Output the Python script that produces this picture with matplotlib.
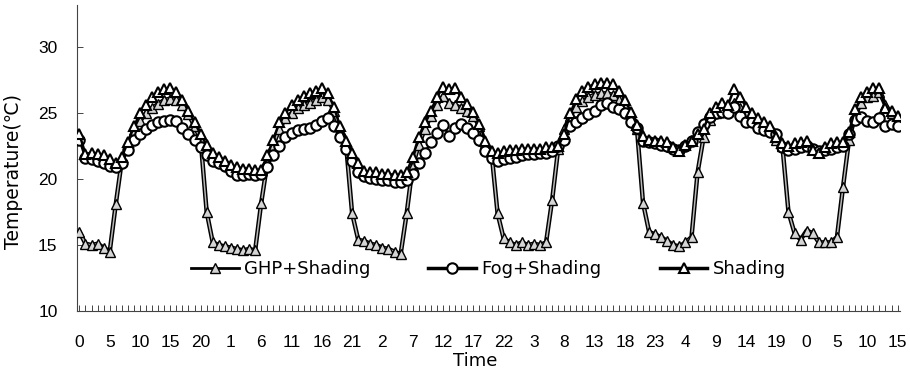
import matplotlib
matplotlib.use("Agg")
import matplotlib.pyplot as plt
import matplotlib.patheffects as pe
from matplotlib.lines import Line2D
from matplotlib.ticker import MultipleLocator, FixedLocator

plt.rcParams['font.family'] = ['Liberation Sans', 'DejaVu Sans']

hours = list(range(136))
tick_labels = ['0', '5', '10', '15', '20', '1', '6', '11', '16', '21', '2', '7', '12', '17',
               '22', '3', '8', '13', '18', '23', '4', '9', '14', '19', '0', '5', '10', '15']

shading = [
    23.4, 21.9, 22.0, 21.9, 21.8, 21.5, 21.2, 21.7, 22.8, 24.0, 25.0, 25.6, 26.2, 26.6, 26.8, 26.9, 26.6, 26.0, 25.2, 24.3, 23.4, 22.6, 22.0, 21.7,
    21.4, 21.1, 20.9, 20.8, 20.8, 20.7, 20.7, 21.8, 23.0, 24.3, 25.0, 25.6, 26.0, 26.3, 26.5, 26.7, 26.9, 26.5, 25.5, 24.0, 22.9, 22.0, 21.2, 20.6,
    20.5, 20.5, 20.4, 20.4, 20.3, 20.3, 20.5, 21.7, 23.2, 24.3, 25.2, 26.2, 27.0, 26.8, 26.9, 26.2, 25.7, 25.1, 24.2, 22.9, 22.1, 22.0, 22.1, 22.2,
    22.2, 22.3, 22.3, 22.3, 22.3, 22.4, 22.4, 22.5, 23.4, 25.0, 26.1, 26.7, 27.0, 27.2, 27.3, 27.3, 27.2, 26.7, 26.0, 25.1, 24.1, 23.3, 23.0, 22.9,
    22.9, 22.8, 22.4, 22.1, 22.6, 22.9, 23.4, 23.8, 25.0, 25.5, 25.8, 25.6, 26.8, 26.2, 25.5, 25.0, 24.6, 24.3, 24.0, 23.2, 22.7, 22.5, 22.7, 22.8,
    22.9, 22.2, 22.0, 22.4, 22.7, 22.8, 22.8, 23.6, 25.3, 26.2, 26.6, 26.9, 26.9, 25.4, 25.2, 24.8,
]

fog_shading = [
    23.0, 21.6, 21.5, 21.4, 21.2, 21.0, 20.9, 21.2, 22.2, 23.0, 23.4, 23.8, 24.1, 24.3, 24.4, 24.5, 24.4, 23.9, 23.4, 23.0, 22.4, 21.8, 21.4, 21.2,
    21.0, 20.6, 20.3, 20.3, 20.4, 20.3, 20.4, 20.9, 21.8, 22.5, 23.2, 23.5, 23.7, 23.8, 23.9, 24.1, 24.4, 24.6, 24.0, 23.2, 22.3, 21.4, 20.5, 20.2,
    20.1, 20.0, 19.9, 19.9, 19.8, 19.8, 19.9, 20.4, 21.2, 22.0, 22.8, 23.5, 24.1, 23.3, 23.9, 24.2, 23.9, 23.5, 23.0, 22.1, 21.6, 21.4, 21.5, 21.6,
    21.7, 21.8, 21.9, 21.9, 22.0, 22.0, 22.1, 22.5, 23.0, 24.0, 24.3, 24.6, 24.9, 25.2, 25.6, 25.8, 25.5, 25.3, 25.0, 24.3, 23.9, 22.9, 22.8, 22.7,
    22.6, 22.5, 22.3, 22.2, 22.5, 22.9, 23.6, 24.2, 24.7, 25.0, 25.1, 25.0, 25.5, 24.8, 24.3, 24.3, 23.9, 23.7, 23.6, 23.4, 22.4, 22.2, 22.3, 22.4,
    22.5, 22.3, 22.1, 22.2, 22.3, 22.4, 22.5, 23.4, 24.5, 24.7, 24.4, 24.3, 24.6, 24.0, 24.2, 24.0,
]

ghp_shading = [
    16.0, 15.1, 15.0, 15.1, 14.8, 14.5, 18.1, 21.4, 22.6, 23.7, 24.4, 25.0, 25.4, 25.7, 26.0, 26.1, 26.0, 25.6, 24.9, 24.0, 23.0, 17.5, 15.2, 15.0,
    14.9, 14.8, 14.7, 14.6, 14.7, 14.6, 18.2, 21.2, 22.6, 23.8, 24.6, 25.0, 25.4, 25.6, 25.8, 26.0, 26.2, 26.0, 25.2, 23.7, 22.6, 17.4, 15.4, 15.3,
    15.1, 15.0, 14.8, 14.7, 14.5, 14.3, 17.4, 21.0, 22.6, 23.8, 24.8, 25.6, 26.3, 25.8, 25.6, 25.4, 25.2, 24.8, 24.0, 22.7, 22.0, 17.4, 15.5, 15.2,
    15.0, 15.2, 15.0, 15.1, 15.0, 15.2, 18.4, 22.3, 23.8, 24.8, 25.5, 25.9, 26.2, 26.4, 26.5, 26.5, 26.4, 26.0, 25.6, 24.8, 23.8, 18.2, 16.0, 15.8,
    15.6, 15.3, 15.0, 14.9, 15.2, 15.6, 20.5, 23.2, 24.5, 25.0, 25.3, 25.2, 25.8, 25.4, 25.0, 24.6, 24.3, 24.0, 23.8, 23.0, 22.5, 17.5, 15.9, 15.4,
    16.1, 15.9, 15.2, 15.2, 15.2, 15.6, 19.4, 23.0, 24.8, 25.8, 26.2, 26.3, 26.6, 25.6, 25.0, 24.6,
]

series_names = ['GHP+Shading', 'Fog+Shading', 'Shading']

fig = plt.figure(figsize=(9.10, 3.75), dpi=100)
ax = fig.add_axes([0.0846, 0.1707, 0.9044, 0.816])

ms = 7.5
# GHP+Shading: double-looking line (black outline, gray core)
ax.plot(hours, ghp_shading, color='#b8b8b8', lw=1.1, zorder=2,
        path_effects=[pe.Stroke(linewidth=3.2, foreground='black'), pe.Normal()])
ax.plot(hours, ghp_shading, ls='none', marker='^', ms=ms, mfc='#d4d4d4', mec='black', mew=1.0, zorder=3)
# Fog+Shading
ax.plot(hours, fog_shading, color='black', lw=1.8, zorder=4)
ax.plot(hours, fog_shading, ls='none', marker='o', ms=ms, mfc='white', mec='black', mew=1.5, zorder=5)
# Shading
ax.plot(hours, shading, color='black', lw=1.8, zorder=6)
ax.plot(hours, shading, ls='none', marker='^', ms=ms, mfc='white', mec='black', mew=1.5, zorder=7)

ax.set_xlim(-0.4, 135.4)
ax.set_ylim(10, 33.2)
ax.xaxis.set_major_locator(FixedLocator(list(range(0, 136, 5))))
ax.set_xticklabels(tick_labels)
ax.xaxis.set_minor_locator(MultipleLocator(1))
ax.yaxis.set_major_locator(FixedLocator([10, 15, 20, 25, 30]))

for s in ['top', 'right']:
    ax.spines[s].set_visible(False)
ax.spines['left'].set_linewidth(0.8)
ax.spines['bottom'].set_linewidth(0.8)
ax.spines['left'].set_color('#444444')
ax.spines['bottom'].set_color('#444444')

ax.tick_params(axis='x', which='both', direction='in', length=4, width=0.7, colors='#444444',
               labelcolor='black', labelsize=12.5, pad=17)
ax.tick_params(axis='y', which='major', direction='in', length=4, width=0.7, colors='#444444',
               labelcolor='black', labelsize=12.5, pad=14)

label_font = ['DejaVu Sans']
ax.set_xlabel('Time', fontsize=13, family=label_font)
ax.set_ylabel('Temperature(℃)', fontsize=13.5, family=label_font)
ax.xaxis.set_label_coords(0.484, -0.135)
ax.yaxis.set_label_coords(-0.066, 0.455)

handles = [
    Line2D([], [], color='black', lw=2, marker='^', ms=ms, mfc='#d4d4d4', mec='black', mew=1.0),
    Line2D([], [], color='black', lw=2.5, marker='o', ms=ms, mfc='white', mec='black', mew=1.5),
    Line2D([], [], color='black', lw=2.5, marker='^', ms=ms, mfc='white', mec='black', mew=1.5),
]
ax.legend(handles, series_names, loc='center', bbox_to_anchor=(0.5, 0.137), ncol=3,
          frameon=False, prop={'family': label_font, 'size': 13}, handlelength=2.65,
          handletextpad=0.3, columnspacing=3.2, borderaxespad=0)

fig.savefig('out.png', dpi=100)
